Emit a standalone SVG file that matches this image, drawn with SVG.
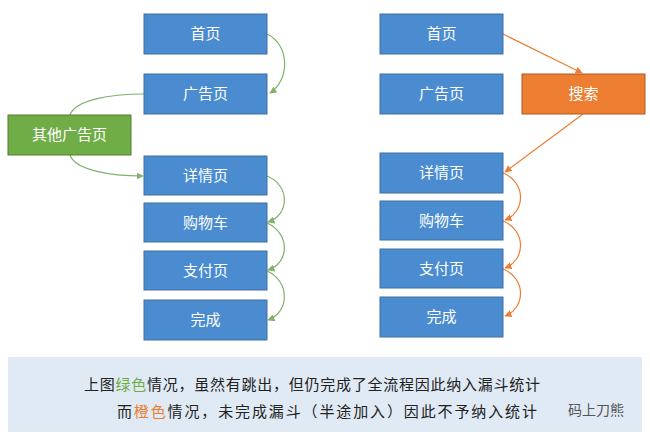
<svg xmlns="http://www.w3.org/2000/svg" width="650" height="439" viewBox="0 0 650 439">
<style>
.b{fill:#4a8ccf;stroke:#41719c;stroke-width:1}
.t{font-family:"Noto Sans CJK SC",sans-serif;font-size:15px;fill:#fff;text-anchor:middle}
.g{fill:none;stroke:#7fb26a;stroke-width:1.2}
.o{fill:none;stroke:#ed7d31;stroke-width:1.2}
.n{font-family:"Noto Sans CJK SC",sans-serif;font-size:15px;fill:#222}
</style>
<defs>
<marker id="ag" viewBox="0 0 10 10" refX="9" refY="5" markerWidth="6" markerHeight="6" orient="auto"><path d="M0,0L10,5L0,10z" fill="#7fb26a"/></marker>
<marker id="ao" viewBox="0 0 10 10" refX="9" refY="5" markerWidth="6" markerHeight="6" orient="auto"><path d="M0,0L10,5L0,10z" fill="#ed7d31"/></marker>
</defs>
<rect width="650" height="439" fill="#fff"/>
<g id="connectors">
<path class="g" d="M267,34 C290,45 290,80 270,93" marker-end="url(#ag)"/>
<path class="g" d="M144,94 C110,94 75,100 70,115"/>
<path class="g" d="M70,155 C75,170 110,176 143,176" marker-end="url(#ag)"/>
<path class="g" d="M267,176 C290,185 290,215 268,222" marker-end="url(#ag)"/>
<path class="g" d="M267,223 C290,233 290,263 268,270" marker-end="url(#ag)"/>
<path class="g" d="M267,271 C290,281 290,312 268,320" marker-end="url(#ag)"/>
<path class="o" d="M503,34 L582,73" marker-end="url(#ao)"/>
<path class="o" d="M583,114 L505,172" marker-end="url(#ao)"/>
<path class="o" d="M503,173 C526,182 526,212 505,220" marker-end="url(#ao)"/>
<path class="o" d="M503,221 C526,230 526,260 505,268" marker-end="url(#ao)"/>
<path class="o" d="M503,269 C526,278 526,308 505,316" marker-end="url(#ao)"/>
</g>
<g id="l1"><rect class="b" x="144" y="14" width="123" height="40"/><text class="t" x="205.5" y="39">首页</text></g>
<g id="l2"><rect class="b" x="144" y="74" width="123" height="40"/><text class="t" x="205.5" y="99">广告页</text></g>
<g id="l3"><rect x="8" y="115" width="123" height="40" fill="#70ad47" stroke="#507e32"/><text class="t" x="69.5" y="140">其他广告页</text></g>
<g id="l4"><rect class="b" x="144" y="156" width="123" height="39"/><text class="t" x="205.5" y="181">详情页</text></g>
<g id="l5"><rect class="b" x="144" y="203" width="123" height="39"/><text class="t" x="205.5" y="228">购物车</text></g>
<g id="l6"><rect class="b" x="144" y="251" width="123" height="39"/><text class="t" x="205.5" y="276">支付页</text></g>
<g id="l7"><rect class="b" x="144" y="300" width="123" height="40"/><text class="t" x="205.5" y="325">完成</text></g>
<g id="r1"><rect class="b" x="380" y="14" width="123" height="40"/><text class="t" x="441.5" y="39">首页</text></g>
<g id="r2"><rect class="b" x="380" y="74" width="123" height="40"/><text class="t" x="441.5" y="99">广告页</text></g>
<g id="r3"><rect x="522" y="74" width="123" height="40" fill="#ed7d31" stroke="#ae5a21"/><text class="t" x="583.5" y="99">搜索</text></g>
<g id="r4"><rect class="b" x="380" y="153" width="123" height="40"/><text class="t" x="441.5" y="178">详情页</text></g>
<g id="r5"><rect class="b" x="380" y="201" width="123" height="39"/><text class="t" x="441.5" y="226">购物车</text></g>
<g id="r6"><rect class="b" x="380" y="249" width="123" height="39"/><text class="t" x="441.5" y="274">支付页</text></g>
<g id="r7"><rect class="b" x="380" y="297" width="123" height="40"/><text class="t" x="441.5" y="322">完成</text></g>
<g id="note">
<rect x="8" y="357" width="634" height="75" fill="#e0eaf5"/>
<text class="n" x="84" y="390" textLength="456">上图<tspan fill="#70ad47">绿色</tspan>情况，虽然有跳出，但仍完成了全流程因此纳入漏斗统计</text>
<text class="n" x="117" y="417" textLength="420">而<tspan fill="#ed7d31">橙色</tspan>情况，未完成漏斗（半途加入）因此不予纳入统计</text>
<text x="568" y="415" font-family="Noto Sans CJK SC,sans-serif" font-size="14" fill="#555">码上刀熊</text>
</g>
</svg>
